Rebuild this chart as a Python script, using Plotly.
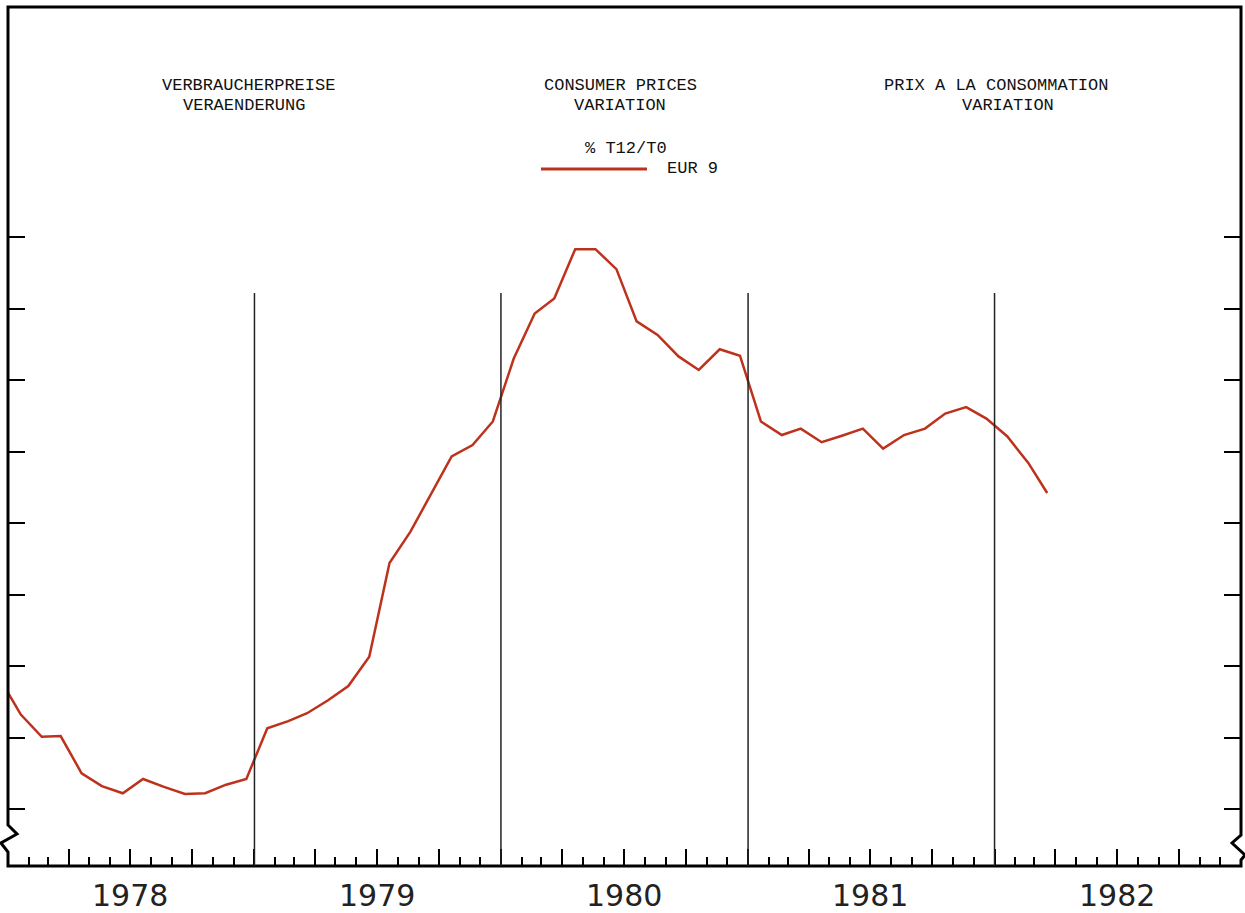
import plotly.graph_objects as go

# ---- data -------------------------------------------------------------
months = (["1977-12"] +
          [f"{y}-{m:02d}" for y in (1978, 1979, 1980, 1981) for m in range(1, 13)] +
          ["1982-01", "1982-02", "1982-03"])
eur9 = [7.82,
        7.32, 7.01, 7.02, 6.50, 6.32, 6.22, 6.42, 6.31, 6.21, 6.22, 6.34, 6.42,
        7.13, 7.23, 7.34, 7.52, 7.72, 8.13, 9.44, 9.88, 10.42, 10.93, 11.09, 11.42,
        12.30, 12.93, 13.14, 13.83, 13.83, 13.55, 12.82, 12.63, 12.33, 12.14, 12.43, 12.34,
        11.42, 11.23, 11.32, 11.13, 11.22, 11.32, 11.04, 11.23, 11.32, 11.53, 11.62, 11.46,
        11.21, 10.84, 10.42]
years = ["1978", "1979", "1980", "1981", "1982"]
year_bounds = ["1979-01-01", "1980-01-01", "1981-01-01", "1982-01-01"]
ytick_vals = [6, 7, 8, 9, 10, 11, 12, 13, 14]

x_dates = [m + "-20" for m in months]

W, H = 1245, 913
ML, MR, MT, MB = 8, 4, 7, 47
PW, PH = W - ML - MR, H - MT - MB


def px(x):
    return (x - ML) / PW


def py(y):
    return (H - MB - y) / PH


LINE_COLOR = "#bd321c"

fig = go.Figure()
fig.add_trace(go.Scatter(x=x_dates, y=eur9, mode="lines",
                         line=dict(color=LINE_COLOR, width=2.5),
                         showlegend=False, hoverinfo="x+y"))

# frame with axis-break zigzags
pts = [(8, 866), (8, 852), (1, 843), (17, 834), (8, 825), (8, 7), (1241, 7),
       (1241, 835), (1232, 843), (1245, 855), (1241, 860), (1241, 866)]
path = "M " + " L ".join(f"{px(a):.5f},{py(b):.5f}" for a, b in pts) + " Z"
shapes = [dict(type="path", xref="paper", yref="paper", path=path,
               line=dict(color="black", width=3), layer="above")]

# year boundary lines
for d in year_bounds:
    shapes.append(dict(type="line", xref="x", yref="paper", x0=d, x1=d,
                       y0=0, y1=py(293), line=dict(color="#222222", width=1.5)))

# legend key line
shapes.append(dict(type="line", xref="paper", yref="paper",
                   x0=px(541), x1=px(647), y0=py(169), y1=py(169),
                   line=dict(color=LINE_COLOR, width=3)))

mono = dict(family="Liberation Mono", size=17, color="#111111")
annotations = []


def txt(t, x, y, anchor="center", font=mono):
    annotations.append(dict(text=t, xref="paper", yref="paper", x=px(x), y=py(y),
                            xanchor=anchor, yanchor="middle", showarrow=False,
                            font=font))


txt("VERBRAUCHERPREISE", 248, 86)
txt("VERAENDERUNG", 244, 105)
txt("CONSUMER PRICES", 620, 86)
txt("VARIATION", 620, 105)
txt("PRIX A LA CONSOMMATION", 996, 86)
txt("VARIATION", 1008, 105)
txt("% T12/T0", 626, 148)
txt("EUR 9", 665, 169, anchor="left")

mid_years = ["1978-07-01", "1979-07-01", "1980-07-01", "1981-07-01", "1982-07-01"]
for yl, md in zip(years, mid_years):
    annotations.append(dict(text=yl, xref="x", yref="paper", x=md, y=py(896),
                            xanchor="center", yanchor="middle", showarrow=False,
                            font=dict(family="DejaVu Sans", size=30, color="#222222")))

fig.update_layout(
    width=W, height=H,
    margin=dict(l=ML, r=MR, t=MT, b=MB, pad=0),
    paper_bgcolor="white", plot_bgcolor="white",
    shapes=shapes, annotations=annotations,
    xaxis=dict(type="date", range=["1978-01-01", "1983-01-01"],
               showgrid=False, zeroline=False, showline=False,
               tickmode="linear", tick0="1978-01-01", dtick="M3",
               ticks="inside", ticklen=17, tickwidth=1.5, tickcolor="black",
               showticklabels=False,
               minor=dict(dtick="M1", tick0="1978-01-01", ticks="inside",
                          ticklen=9, tickwidth=1.5, tickcolor="black",
                          showgrid=False)),
    yaxis=dict(range=[6 - 57 / 71.5, 14 + 230 / 71.5],
               showgrid=False, zeroline=False, showline=False,
               tickmode="array", tickvals=ytick_vals,
               ticks="inside", ticklen=17, tickwidth=2, tickcolor="black",
               mirror="ticks", showticklabels=False),
    showlegend=False,
)

fig.write_html("out.html",
               config={"displayModeBar": False},
               post_script="document.body.style.margin='0';"
                           "document.body.style.overflow='hidden';")
